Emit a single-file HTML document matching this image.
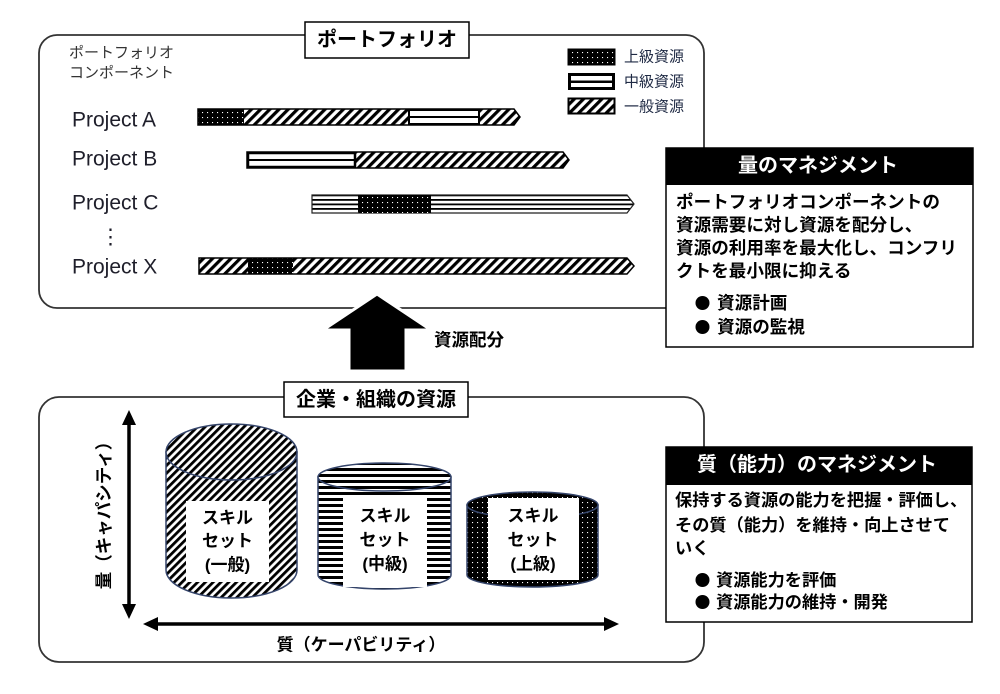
<!DOCTYPE html>
<html><head><meta charset="utf-8"><style>
html,body{margin:0;padding:0;background:#fff;}
svg{display:block;}
text{font-family:"Liberation Sans","Noto Sans CJK JP",sans-serif;}
.b{font-weight:bold;}
</style></head><body>
<svg width="1000" height="694" viewBox="0 0 1000 694" xmlns="http://www.w3.org/2000/svg">
<defs>
<pattern id="dots" width="5" height="5" patternUnits="userSpaceOnUse"><rect width="5" height="5" fill="#000"/><rect x="2" y="2" width="1.1" height="1.1" fill="#fff"/></pattern>
<pattern id="hatch" width="6.5" height="6.5" patternUnits="userSpaceOnUse" patternTransform="rotate(45)"><rect width="6.5" height="6.5" fill="#fff"/><rect width="3.2" height="6.5" fill="#000"/></pattern>
<pattern id="hatch2" width="5.5" height="5.5" patternUnits="userSpaceOnUse" patternTransform="rotate(45)"><rect width="5.5" height="5.5" fill="#fff"/><rect width="2.8" height="5.5" fill="#000"/></pattern>
<pattern id="hs" width="6" height="6" patternUnits="userSpaceOnUse"><rect width="6" height="6" fill="#fff"/><rect y="0" width="6" height="3" fill="#000"/></pattern>
<pattern id="mid" width="4.5" height="4.5" patternUnits="userSpaceOnUse" y="1"><rect width="4.5" height="4.5" fill="#fff"/><rect width="4.5" height="1.8" fill="#000"/></pattern>
</defs>

<!-- top frame -->
<rect x="39" y="35" width="665" height="273" rx="18" fill="none" stroke="#333" stroke-width="1.8"/>
<rect x="305" y="22" width="164" height="36" fill="#fff" stroke="#000" stroke-width="1.5"/>
<text x="387" y="40" class="b" font-size="20" text-anchor="middle" dominant-baseline="central">ポートフォリオ</text>

<text x="69" y="53" font-size="15" fill="#333" dominant-baseline="central">ポートフォリオ</text>
<text x="69" y="73" font-size="15" fill="#333" dominant-baseline="central">コンポーネント</text>

<text x="72" y="120" font-size="21" fill="#1e1e2a" dominant-baseline="central">Project A</text>
<text x="72" y="159" font-size="21" fill="#1e1e2a" dominant-baseline="central">Project B</text>
<text x="72" y="203" font-size="21" fill="#1e1e2a" dominant-baseline="central">Project C</text>
<text x="100" y="237" font-size="21" fill="#1e1e2a" dominant-baseline="central">⋮</text>
<text x="72" y="267" font-size="21" fill="#1e1e2a" dominant-baseline="central">Project X</text>

<!-- legend -->
<rect x="568" y="49" width="47" height="16" fill="url(#dots)" stroke="#000" stroke-width="1"/>
<rect x="569.5" y="74.5" width="44" height="14" fill="#fff" stroke="#000" stroke-width="3"/>
<rect x="569" y="80.5" width="45" height="2.5" fill="#000"/>
<rect x="568.5" y="98.5" width="46" height="15" fill="url(#hatch)" stroke="#000" stroke-width="2"/>
<text x="624" y="57" font-size="15" fill="#1f2a44" dominant-baseline="central">上級資源</text>
<text x="624" y="82" font-size="15" fill="#1f2a44" dominant-baseline="central">中級資源</text>
<text x="624" y="107" font-size="15" fill="#1f2a44" dominant-baseline="central">一般資源</text>

<!-- bar A -->
<polygon points="198,109 514,109 520,117 514,125 198,125" fill="url(#hatch)" stroke="#000" stroke-width="1.5"/>
<rect x="198" y="109" width="46" height="16" fill="url(#dots)"/>
<rect x="409" y="110" width="70" height="14" fill="#fff" stroke="#000" stroke-width="2"/>
<rect x="409" y="116" width="70" height="2" fill="#000"/>
<!-- bar B -->
<polygon points="247,152 563,152 569,160 563,168 247,168" fill="url(#hatch)" stroke="#000" stroke-width="1.5"/>
<rect x="248" y="153" width="107" height="14" fill="#fff" stroke="#000" stroke-width="2.5"/>
<rect x="248" y="159" width="107" height="2" fill="#000"/>
<!-- bar C -->
<polygon points="312,195 627,195 634,204 627,213 312,213" fill="url(#mid)" stroke="#222" stroke-width="1.2"/>
<rect x="358" y="195" width="73" height="18" fill="url(#dots)"/>
<!-- bar X -->
<polygon points="199,258 627,258 634,266 627,274 199,274" fill="url(#hatch)" stroke="#000" stroke-width="1.5"/>
<rect x="248" y="258" width="45" height="16" fill="url(#dots)"/>

<!-- upward arrow -->
<polygon points="377,294 431,330 406,330 406,371 349,371 349,330 323,330" fill="#000" stroke="#fff" stroke-width="3" stroke-linejoin="miter"/>
<text x="434" y="340" class="b" font-size="17.5" dominant-baseline="central">資源配分</text>

<!-- lower frame -->
<rect x="39" y="397" width="665" height="265" rx="20" fill="none" stroke="#333" stroke-width="1.8"/>
<rect x="284" y="382" width="184" height="35" fill="#fff" stroke="#000" stroke-width="1.5"/>
<text x="376" y="400" class="b" font-size="20" text-anchor="middle" dominant-baseline="central">企業・組織の資源</text>

<!-- axes -->
<line x1="129" y1="422" x2="129" y2="608" stroke="#000" stroke-width="3.5"/>
<polygon points="129,410 122,425 136,425" fill="#000"/>
<polygon points="129,619 122,604 136,604" fill="#000"/>
<line x1="155" y1="624" x2="606" y2="624" stroke="#000" stroke-width="3.5"/>
<polygon points="143,624 158,617 158,631" fill="#000"/>
<polygon points="619,624 604,617 604,631" fill="#000"/>
<text transform="translate(104,511) rotate(-90)" class="b" font-size="17.5" text-anchor="middle" dominant-baseline="central">量（キャパシティ）</text>
<text x="361" y="645" class="b" font-size="17" text-anchor="middle" dominant-baseline="central">質（ケーパビリティ）</text>

<!-- cylinder 1 -->
<path d="M166,452 L166,570 A65.5,28 0 0 0 297,570 L297,452 Z" fill="url(#hatch2)" stroke="#34446a" stroke-width="1.5"/>
<ellipse cx="231.5" cy="452" rx="65.5" ry="28" fill="url(#hatch2)" stroke="#34446a" stroke-width="1.5"/>
<rect x="186" y="501" width="83" height="81" fill="#fff"/>
<text x="227.5" y="518" class="b" font-size="17" text-anchor="middle" dominant-baseline="central">スキル</text>
<text x="227.5" y="541" class="b" font-size="17" text-anchor="middle" dominant-baseline="central">セット</text>
<text x="227.5" y="565" class="b" font-size="17" text-anchor="middle" dominant-baseline="central">(一般)</text>

<!-- cylinder 2 -->
<path d="M318,477 L318,575 A66.5,14 0 0 0 451,575 L451,477 Z" fill="url(#hs)" stroke="#34446a" stroke-width="1.5"/>
<ellipse cx="384.5" cy="477" rx="66.5" ry="14" fill="url(#hs)" stroke="#34446a" stroke-width="1.5"/>
<rect x="343" y="497" width="84" height="90" fill="#fff"/>
<text x="385" y="516" class="b" font-size="17" text-anchor="middle" dominant-baseline="central">スキル</text>
<text x="385" y="540" class="b" font-size="17" text-anchor="middle" dominant-baseline="central">セット</text>
<text x="385" y="564" class="b" font-size="17" text-anchor="middle" dominant-baseline="central">(中級)</text>

<!-- cylinder 3 -->
<path d="M467,505 L467,575 A65.5,12 0 0 0 598,575 L598,505 Z" fill="url(#dots)" stroke="#34446a" stroke-width="1.5"/>
<ellipse cx="532.5" cy="505" rx="65.5" ry="13" fill="url(#dots)" stroke="#34446a" stroke-width="1.5"/>
<rect x="488" y="498" width="91" height="82" fill="#fff"/>
<text x="533" y="516" class="b" font-size="17" text-anchor="middle" dominant-baseline="central">スキル</text>
<text x="533" y="540" class="b" font-size="17" text-anchor="middle" dominant-baseline="central">セット</text>
<text x="533" y="564" class="b" font-size="17" text-anchor="middle" dominant-baseline="central">(上級)</text>

<!-- box 1 -->
<rect x="666" y="148" width="307" height="199" fill="#fff" stroke="#000" stroke-width="1.5"/>
<rect x="666" y="148" width="307" height="37" fill="#000"/>
<text x="818" y="166" class="b" font-size="20" fill="#fff" text-anchor="middle" dominant-baseline="central">量のマネジメント</text>
<text x="676" y="202" class="b" font-size="17.6" dominant-baseline="central">ポートフォリオコンポーネントの</text>
<text x="676" y="225" class="b" font-size="17.6" dominant-baseline="central">資源需要に対し資源を配分し、</text>
<text x="676" y="248" class="b" font-size="17.6" dominant-baseline="central">資源の利用率を最大化し、コンフリ</text>
<text x="676" y="271" class="b" font-size="17.6" dominant-baseline="central">クトを最小限に抑える</text>
<circle cx="702.5" cy="303" r="7" fill="#000"/>
<text x="717" y="303" class="b" font-size="17.6" dominant-baseline="central">資源計画</text>
<circle cx="702.5" cy="327" r="7" fill="#000"/>
<text x="717" y="327" class="b" font-size="17.6" dominant-baseline="central">資源の監視</text>

<!-- box 2 -->
<rect x="666" y="447" width="306" height="175" fill="#fff" stroke="#000" stroke-width="1.5"/>
<rect x="666" y="447" width="306" height="38" fill="#000"/>
<text x="817" y="465" class="b" font-size="20" fill="#fff" text-anchor="middle" dominant-baseline="central">質（能力）のマネジメント</text>
<text x="675" y="500" class="b" font-size="17.2" dominant-baseline="central">保持する資源の能力を把握・評価し、</text>
<text x="675" y="525" class="b" font-size="17.2" dominant-baseline="central">その質（能力）を維持・向上させて</text>
<text x="675" y="548" class="b" font-size="17.2" dominant-baseline="central">いく</text>
<circle cx="702.5" cy="580" r="7" fill="#000"/>
<text x="716" y="580" class="b" font-size="17.2" dominant-baseline="central">資源能力を評価</text>
<circle cx="702.5" cy="602" r="7" fill="#000"/>
<text x="716" y="602" class="b" font-size="17.2" dominant-baseline="central">資源能力の維持・開発</text>
</svg>
</body></html>
